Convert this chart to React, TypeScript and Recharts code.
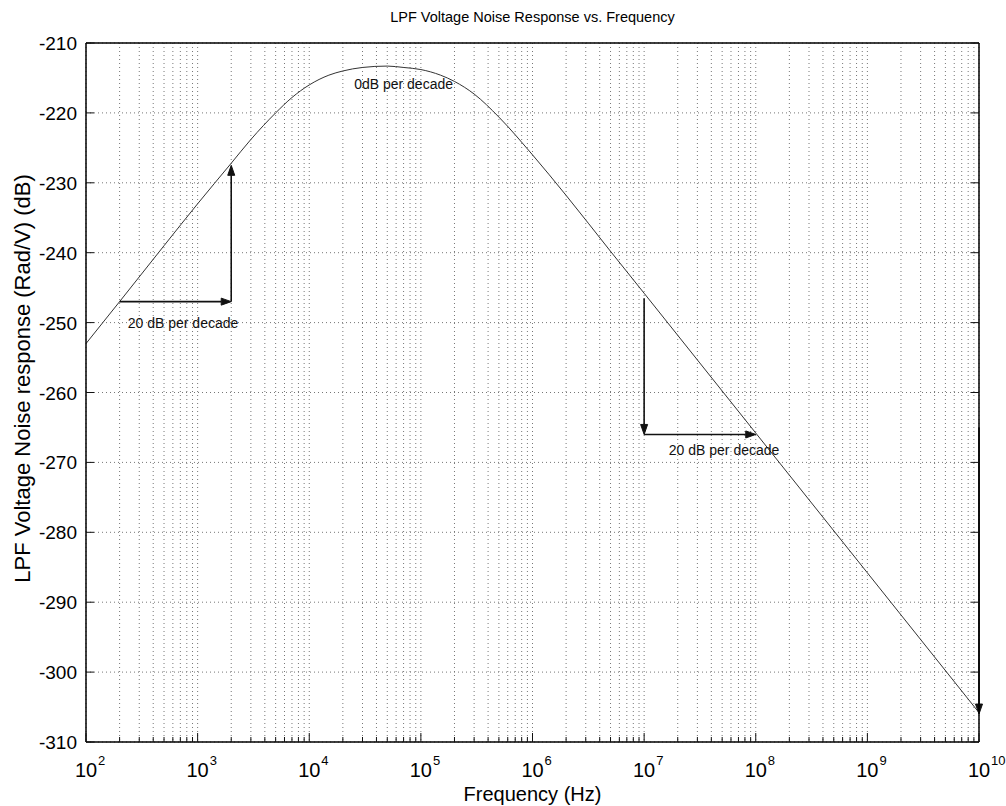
import React from 'react';
import { LineChart, Line, XAxis, YAxis, CartesianGrid, ReferenceLine, ReferenceDot } from 'recharts';

// Frequency points (Hz) and response (dB)
const FREQ = [1e2, 2e2, 5e2, 1e3, 2e3, 3e3, 5e3, 7e3, 1e4, 1.5e4, 2e4, 3e4, 5e4, 7e4, 1e5, 1.5e5, 2e5, 3e5, 5e5, 1e6, 2e6, 5e6, 1e7, 1e8, 1e9, 1e10];
const NOISE_DB = [-253.0, -247.0, -239.0, -233.0, -227.2, -223.8, -220.0, -217.8, -216.0, -214.6, -214.0, -213.5, -213.3, -213.5, -213.8, -214.6, -215.5, -217.3, -220.6, -226.0, -231.8, -239.8, -245.8, -265.8, -285.8, -305.8];

const Y_TICKS = [-310, -300, -290, -280, -270, -260, -250, -240, -230, -220, -210];
const DECADE_EXPONENTS = [2, 3, 4, 5, 6, 7, 8, 9, 10];
const MINOR_STEPS = [1, 2, 3, 4, 5, 6, 7, 8, 9];

// annotation arrows: [freq, dB] start -> end
const ARROWS = [
  { from: [200, -247], to: [2000, -247] },
  { from: [2000, -247], to: [2000, -227.5] },
  { from: [1e7, -246.5], to: [1e7, -266] },
  { from: [1e7, -266], to: [1e8, -266] },
  { from: [1e10, -265], to: [1e10, -306] },
];

const NOTES = [
  { f: 740, db: -250, text: '20 dB per decade' },
  { f: 5.2e7, db: -268.2, text: '20 dB per decade' },
  { f: 7.0e4, db: -215.9, text: '0dB per decade' },
];

const data = FREQ.map((f, i) => ({ f, db: NOISE_DB[i] }));

const X_TICKS: number[] = [];
DECADE_EXPONENTS.forEach((e) => {
  if (e === 10) {
    X_TICKS.push(Math.pow(10, e));
    return;
  }
  MINOR_STEPS.forEach((m) => X_TICKS.push(m * Math.pow(10, e)));
});

const W = 1006;
const H = 806;
const LEFT = 86;
const RIGHT = 979;
const TOP = 43;
const BOTTOM = 742;
const FONT = '"Liberation Sans", Arial, Helvetica, sans-serif';

const isDecade = (v: number) => Math.abs(Math.log10(v) - Math.round(Math.log10(v))) < 1e-9;

const BottomTick = (props: any) => {
  const { x, payload } = props;
  const v = payload.value;
  const major = isDecade(v);
  return (
    <g>
      <line x1={x} x2={x} y1={BOTTOM} y2={BOTTOM - (major ? 9 : 5)} stroke="#111" strokeWidth={1} />
      {major && (
        <g fontFamily={FONT} fill="#000">
          <text x={x} y={BOTTOM + 35} textAnchor="middle" fontSize={20}>10</text>
          <text x={x + 12} y={BOTTOM + 23} textAnchor="start" fontSize={13}>{Math.round(Math.log10(v))}</text>
        </g>
      )}
    </g>
  );
};

const TopTick = (props: any) => {
  const { x, payload } = props;
  const major = isDecade(payload.value);
  return <line x1={x} x2={x} y1={TOP} y2={TOP + (major ? 9 : 5)} stroke="#111" strokeWidth={1} />;
};

const LeftTick = (props: any) => {
  const { y, payload } = props;
  return (
    <g>
      <line x1={LEFT} x2={LEFT + 8} y1={y} y2={y} stroke="#111" strokeWidth={1} />
      <text x={LEFT - 9} y={y + 7} textAnchor="end" fontSize={19} fontFamily={FONT} fill="#000">
        {payload.value}
      </text>
    </g>
  );
};

const RightTick = (props: any) => {
  const { y } = props;
  return <line x1={RIGHT} x2={RIGHT - 8} y1={y} y2={y} stroke="#111" strokeWidth={1} />;
};

const Arrow = (props: any) => {
  const { x1, y1, x2, y2 } = props;
  if ([x1, y1, x2, y2].some((n) => typeof n !== 'number' || isNaN(n))) return null;
  const ang = Math.atan2(y2 - y1, x2 - x1);
  const len = 10;
  const w = 3.5;
  const c = Math.cos(ang);
  const s = Math.sin(ang);
  const bx = x2 - len * c;
  const by = y2 - len * s;
  return (
    <g>
      <line x1={x1} y1={y1} x2={bx} y2={by} stroke="#111" strokeWidth={1.6} />
      <polygon
        points={`${x2},${y2} ${bx - w * s},${by + w * c} ${bx + w * s},${by - w * c}`}
        fill="#111"
        stroke="#111"
      />
    </g>
  );
};

export default function App() {
  return (
    <div style={{ position: 'absolute', left: 0, top: 0, width: W, height: H, background: '#fff', fontFamily: FONT }}>
      <div
        style={{
          position: 'absolute',
          left: LEFT,
          width: RIGHT - LEFT,
          top: 9,
          textAlign: 'center',
          fontSize: 14.5,
          color: '#000',
        }}
      >
        LPF Voltage Noise Response vs. Frequency
      </div>
      <LineChart width={W} height={H} data={data} margin={{ top: 0, right: 0, bottom: 0, left: 0 }}>
        <CartesianGrid
          xAxisId="bottom"
          yAxisId="left"
          stroke="#777"
          strokeDasharray="1 3"
          strokeWidth={1}
        />
        <XAxis
          xAxisId="bottom"
          dataKey="f"
          type="number"
          scale="log"
          domain={[1e2, 1e10]}
          allowDataOverflow
          ticks={X_TICKS}
          interval={0}
          height={H - BOTTOM}
          axisLine={{ stroke: '#000', strokeWidth: 1.5 }}
          tickLine={false}
          tick={BottomTick}
          label={{ value: 'Frequency (Hz)', position: 'insideBottom', offset: 5, fontSize: 20, fill: '#000', fontFamily: FONT }}
        />
        <XAxis
          xAxisId="top"
          orientation="top"
          type="number"
          scale="log"
          domain={[1e2, 1e10]}
          allowDataOverflow
          ticks={X_TICKS}
          interval={0}
          height={TOP}
          axisLine={{ stroke: '#000', strokeWidth: 1.5 }}
          tickLine={false}
          tick={TopTick}
        />
        <YAxis
          yAxisId="left"
          type="number"
          domain={[-310, -210]}
          allowDataOverflow
          ticks={Y_TICKS}
          interval={0}
          width={LEFT}
          axisLine={{ stroke: '#000', strokeWidth: 1.5 }}
          tickLine={false}
          tick={LeftTick}
          label={{
            value: 'LPF Voltage Noise response (Rad/V) (dB)',
            angle: -90,
            position: 'insideLeft',
            offset: 22,
            dy: -14,
            fontSize: 22,
            fill: '#000',
            fontFamily: FONT,
            style: { textAnchor: 'middle' },
          }}
        />
        <YAxis
          yAxisId="right"
          orientation="right"
          type="number"
          domain={[-310, -210]}
          allowDataOverflow
          ticks={Y_TICKS}
          interval={0}
          width={W - RIGHT}
          axisLine={{ stroke: '#000', strokeWidth: 1.5 }}
          tickLine={false}
          tick={RightTick}
        />
        <Line
          xAxisId="bottom"
          yAxisId="left"
          type="monotone"
          dataKey="db"
          stroke="#333"
          strokeWidth={1}
          dot={false}
          isAnimationActive={false}
        />
        {ARROWS.map((a, i) => (
          <ReferenceLine
            key={`arrow-${i}`}
            xAxisId="bottom"
            yAxisId="left"
            segment={[
              { x: a.from[0], y: a.from[1] },
              { x: a.to[0], y: a.to[1] },
            ]}
            ifOverflow="visible"
            stroke="#111"
            shape={Arrow}
          />
        ))}
        {NOTES.map((n, i) => (
          <ReferenceDot
            key={`note-${i}`}
            xAxisId="bottom"
            yAxisId="left"
            x={n.f}
            y={n.db}
            r={0}
            fill="none"
            stroke="none"
            ifOverflow="visible"
            label={{ value: n.text, position: 'center', fontSize: 14, fill: '#111', fontFamily: FONT }}
          />
        ))}
      </LineChart>
    </div>
  );
}
